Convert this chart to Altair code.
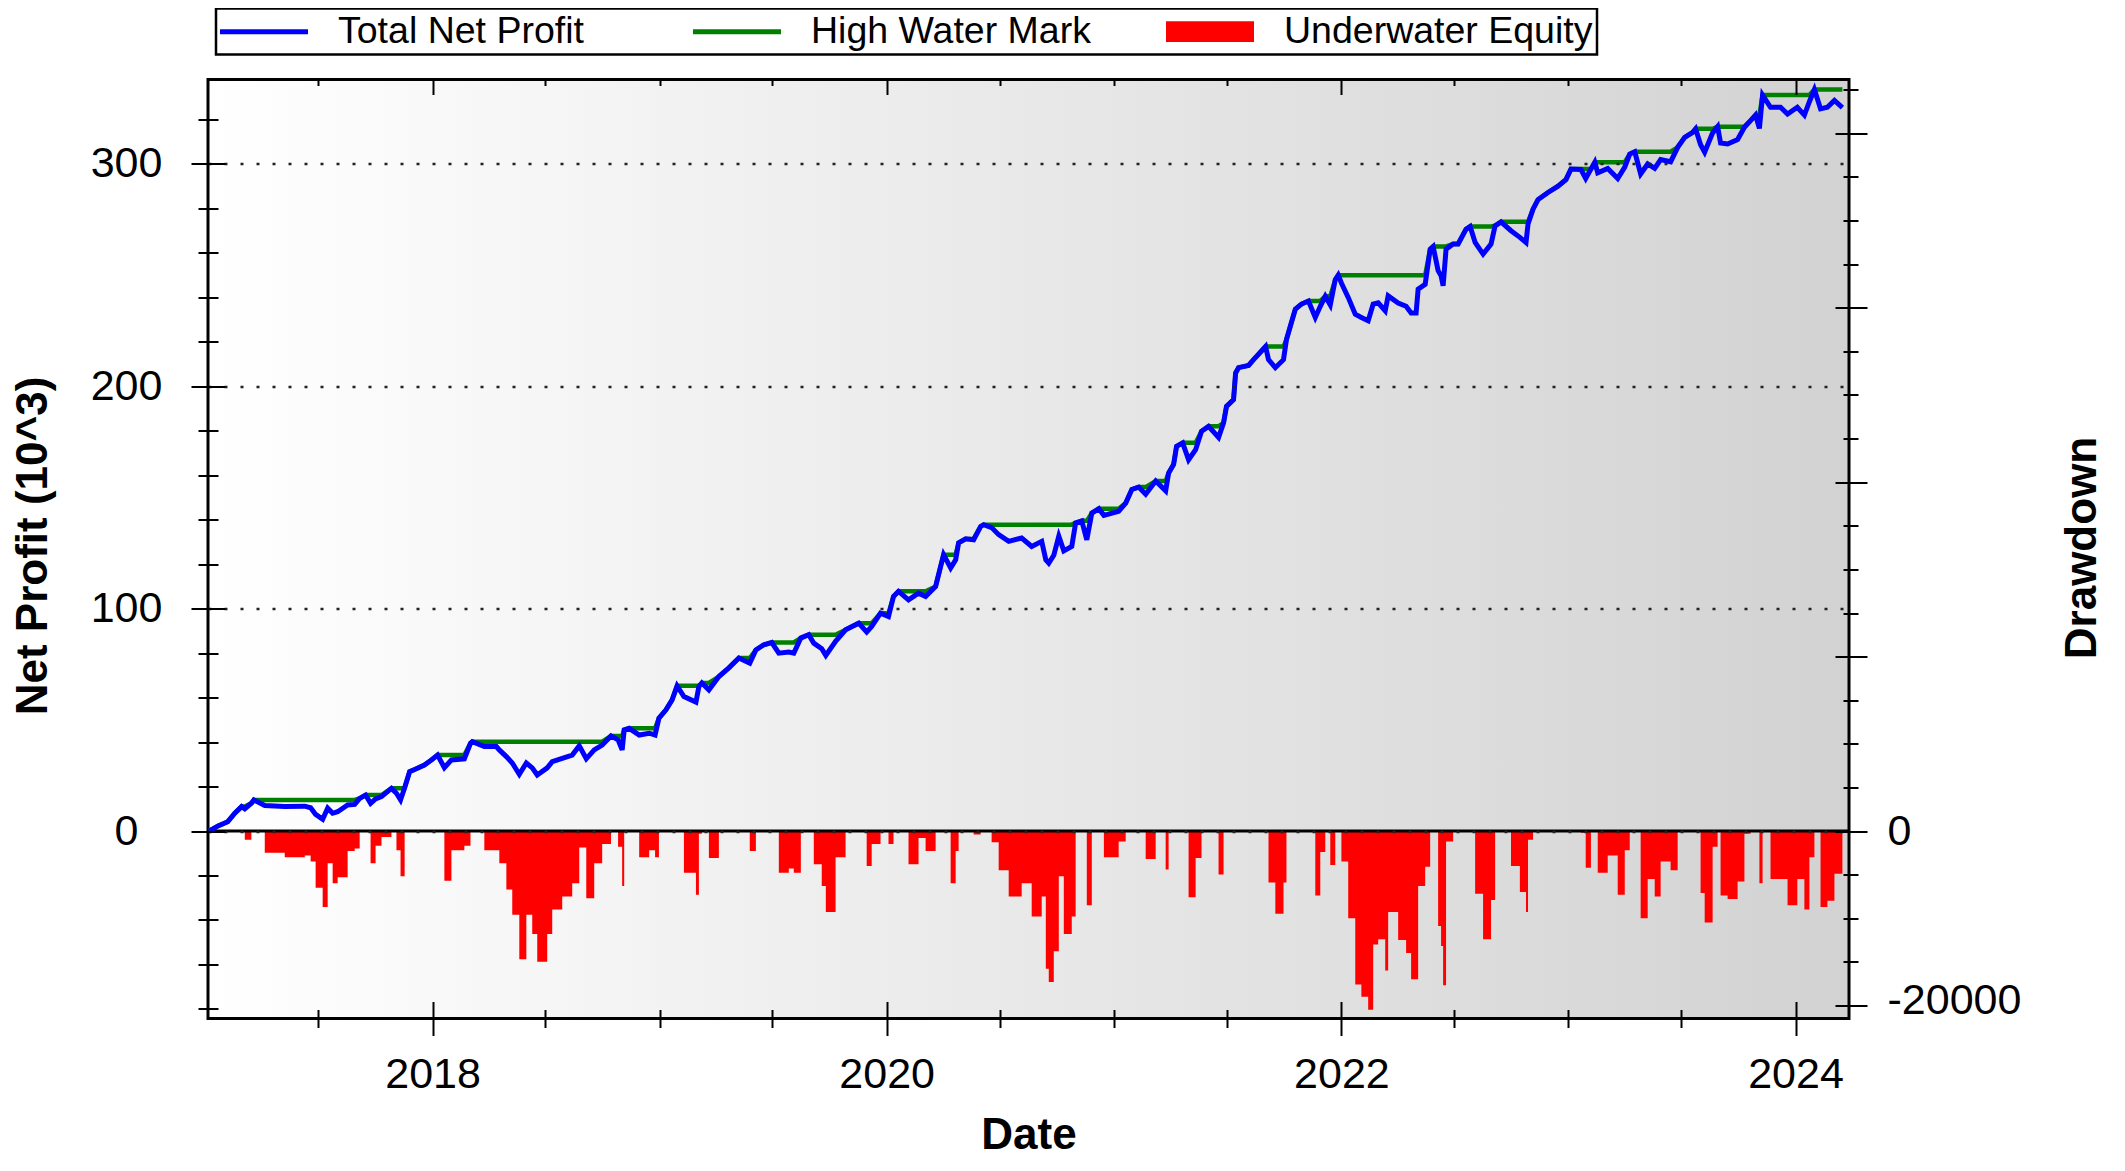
import altair as alt
import pandas as pd
import numpy as np

FONT = "Liberation Sans"

# ---- data: decimal year, Total Net Profit (10^3) ----
years = [
    2017.015, 2017.055, 2017.098, 2017.129, 2017.159, 2017.173, 2017.202, 2017.213, 2017.261, 2017.349,
    2017.437, 2017.463, 2017.485, 2017.516, 2017.538, 2017.560, 2017.582, 2017.626, 2017.657, 2017.679,
    2017.705, 2017.727, 2017.749, 2017.775, 2017.819, 2017.841, 2017.859, 2017.877, 2017.899, 2017.921,
    2017.964, 2017.995, 2018.022, 2018.052, 2018.083, 2018.140, 2018.167, 2018.175, 2018.228, 2018.281,
    2018.294, 2018.325, 2018.351, 2018.382, 2018.413, 2018.439, 2018.461, 2018.505, 2018.527, 2018.571,
    2018.615, 2018.646, 2018.677, 2018.712, 2018.747, 2018.786, 2018.817, 2018.835, 2018.844, 2018.866,
    2018.910, 2018.954, 2018.980, 2018.997, 2019.028, 2019.055, 2019.077, 2019.107, 2019.160, 2019.173,
    2019.186, 2019.217, 2019.261, 2019.305, 2019.349, 2019.397, 2019.424, 2019.459, 2019.494, 2019.525,
    2019.569, 2019.591, 2019.622, 2019.657, 2019.679, 2019.714, 2019.732, 2019.775, 2019.819, 2019.877,
    2019.912, 2019.934, 2019.973, 2020.008, 2020.030, 2020.052, 2020.096, 2020.140, 2020.171, 2020.215,
    2020.237, 2020.250, 2020.281, 2020.303, 2020.316, 2020.347, 2020.382, 2020.413, 2020.426, 2020.461,
    2020.492, 2020.536, 2020.593, 2020.637, 2020.681, 2020.699, 2020.712, 2020.734, 2020.756, 2020.778,
    2020.813, 2020.830, 2020.857, 2020.879, 2020.901, 2020.932, 2020.954, 2021.019, 2021.050, 2021.077,
    2021.107, 2021.138, 2021.182, 2021.226, 2021.239, 2021.261, 2021.274, 2021.301, 2021.327, 2021.358,
    2021.384, 2021.415, 2021.459, 2021.481, 2021.494, 2021.525, 2021.534, 2021.547, 2021.591, 2021.613,
    2021.635, 2021.666, 2021.679, 2021.709, 2021.745, 2021.758, 2021.775, 2021.797, 2021.824, 2021.855,
    2021.885, 2021.907, 2021.929, 2021.951, 2021.973, 2021.986, 2022.000, 2022.030, 2022.061, 2022.088,
    2022.118, 2022.140, 2022.162, 2022.193, 2022.206, 2022.250, 2022.285, 2022.307, 2022.329, 2022.338,
    2022.369, 2022.391, 2022.404, 2022.426, 2022.439, 2022.448, 2022.461, 2022.492, 2022.514, 2022.549,
    2022.567, 2022.589, 2022.624, 2022.659, 2022.677, 2022.703, 2022.747, 2022.786, 2022.813, 2022.822,
    2022.844, 2022.866, 2022.910, 2022.954, 2022.989, 2023.011, 2023.055, 2023.076, 2023.099, 2023.116,
    2023.129, 2023.173, 2023.217, 2023.248, 2023.270, 2023.292, 2023.318, 2023.349, 2023.380, 2023.406,
    2023.450, 2023.481, 2023.512, 2023.547, 2023.560, 2023.582, 2023.600, 2023.635, 2023.657, 2023.670,
    2023.701, 2023.745, 2023.775, 2023.802, 2023.824, 2023.841, 2023.855, 2023.890, 2023.934, 2023.965,
    2024.008, 2024.039, 2024.061, 2024.083, 2024.110, 2024.140, 2024.171, 2024.206,
]
profit_k = [
    0, 2.3, 4.2, 8, 11, 10, 12.5, 14, 11.5, 11,
    11.2, 10.5, 7.5, 5.3, 10.3, 8, 8.7, 11.7, 12, 14.7,
    16.2, 12.5, 14.5, 15.5, 19.2, 17, 14, 19.5, 26.7, 27.7,
    29.7, 32, 34.2, 28.5, 32, 32.5, 39.5, 40.2, 38, 38,
    36.5, 33.5, 30.6, 25.5, 30.6, 28.4, 25.2, 28.4, 31.2, 32.7,
    34.2, 38.3, 32.5, 36.5, 38.7, 42.8, 41, 36.5, 45.5, 46.2,
    43.2, 44, 43.2, 50.8, 54.5, 59, 65.3, 60.5, 58, 65,
    66.6, 63.5, 69.5, 73.4, 77.8, 75.5, 81.5, 83.8, 84.8, 80,
    80.5, 80, 86.8, 88.3, 84.5, 82, 79, 85.3, 90.5, 93.5,
    89.5, 92, 98, 96.5, 105.5, 107.8, 104, 107, 105.5, 110,
    119, 124.3, 118.3, 122, 129.6, 131.4, 131, 137, 137.8, 136.5,
    133.3, 130.3, 131.8, 128, 130.3, 122, 120.5, 124, 132.6, 126,
    128, 138.6, 139.5, 131, 143, 145, 142, 143.8, 147.5, 153.6,
    154.7, 151.5, 157.4, 153, 161, 164.9, 173, 174.6, 167, 171.5,
    179.8, 182, 177, 183.6, 191, 194, 206, 208.4, 209.4, 212,
    214.4, 217.9, 212, 208.4, 212, 221, 227, 234.7, 237, 238.4,
    231, 236, 240.5, 236.6, 248, 250, 246.5, 240, 232.4, 231,
    229.5, 237, 237.6, 234, 240.7, 237.5, 236, 233, 233, 243.7,
    245.9, 261.7, 262.9, 252, 249.7, 245.2, 261.7, 264, 264, 270.7,
    271.9, 264.7, 259.5, 264, 272.2, 274, 270, 267, 264.7, 273,
    279.7, 284, 287.2, 290, 293, 297.7, 297.5, 293.5, 297.7, 300.8,
    296, 298, 293.5, 298.6, 304.5, 305.5, 295.5, 300, 298, 302,
    301, 307.5, 312, 314.2, 315.8, 308.7, 305.3, 314, 316.8, 309.4,
    309, 311, 316.5, 319.5, 322, 316, 331, 325.5, 325.5, 322.5,
    325.5, 322, 328, 333.5, 324.8, 325.5, 328.6, 325.4,
]

series_names = ["Total Net Profit", "High Water Mark", "Underwater Equity"]
series_colors = ["#0000ff", "#008000", "#ff0000"]

x_domain = ["2017-01-05", "2024-03-27"]
x_major = ["2018-01-01", "2020-01-01", "2022-01-01", "2024-01-01"]
x_minor = ["2017-07-01", "2018-07-01", "2019-01-01", "2019-07-01", "2020-07-01",
           "2021-01-01", "2021-07-01", "2022-07-01", "2023-01-01", "2023-07-01"]
left_domain = [-84.3, 338.0]
left_major = [0, 100, 200, 300]
left_minor = [-80, -60, -40, -20, 20, 40, 60, 80, 120, 140, 160, 180, 220, 240, 260, 280, 320]
right_domain = [-21500, 86180]
right_label_zero = [0]
right_label_low = [-20000]
right_major = [-20000, 0, 20000, 40000, 60000, 80000]
right_minor = [-15000, -10000, -5000, 5000, 10000, 15000, 25000, 30000, 35000, 45000, 50000,
               55000, 65000, 70000, 75000, 85000]


def to_ts(t):
    y = int(np.floor(t))
    start = pd.Timestamp(year=y, month=1, day=1)
    end = pd.Timestamp(year=y + 1, month=1, day=1)
    return start + (end - start) * (t - y)


def dt(s):
    y, m, d = (int(p) for p in s.split("-"))
    return alt.DateTime(year=y, month=m, date=d)


profit = np.array(profit_k, dtype=float)
hwm = np.maximum.accumulate(profit)
df = pd.DataFrame({
    "date": [to_ts(t) for t in years],
    "profit": profit,
    "hwm": hwm,
    "dd": (profit - hwm) * 1000.0,
})

W, H = 1641, 939

x_scale = alt.Scale(domain=[dt(x_domain[0]), dt(x_domain[1])], nice=False)
left_scale = alt.Scale(domain=left_domain, nice=False, zero=False)
right_scale = alt.Scale(domain=right_domain, nice=False, zero=False)

one = pd.DataFrame({"a": [0]})

bg = alt.Chart(one).mark_rect(
    fill=alt.LinearGradient(
        gradient="linear",
        stops=[alt.GradientStop(color="#ffffff", offset=0), alt.GradientStop(color="#d2d2d2", offset=1)],
        x1=0, x2=1, y1=0, y2=0,
    ),
    stroke="black", strokeWidth=3,
).encode(x=alt.value(0), x2=alt.value("width"), y=alt.value(0), y2=alt.value("height"))

area = alt.Chart(df).mark_area(color="#ff0000", interpolate="step-after").encode(
    x=alt.X("date:T", scale=x_scale, axis=None),
    y=alt.Y("dd:Q", scale=right_scale, axis=None),
    y2=alt.datum(0),
)

zero = alt.Chart(one).mark_rule(color="black", strokeWidth=3).encode(
    y=alt.YDatum(0, scale=left_scale, axis=None),
)

hwm_line = alt.Chart(df).mark_line(color="#008000", strokeWidth=4.5).encode(
    x=alt.X("date:T", scale=x_scale, axis=None),
    y=alt.Y("hwm:Q", scale=left_scale, axis=None),
)

profit_line = alt.Chart(df).mark_line(color="#0000ff", strokeWidth=5).encode(
    x=alt.X("date:T", scale=x_scale, axis=None),
    y=alt.Y("profit:Q", scale=left_scale, axis=None),
)

carrier_df = pd.DataFrame({
    "series": series_names,
    "date": [pd.Timestamp("2020-01-01")] * 3,
    "v": [0.0, 0.0, 0.0],
})

tick_common = dict(labels=False, domain=False, grid=False, ticks=True, tickColor="black",
                   tickWidth=2, title=None, zindex=1)

legend = alt.Legend(
    title=None, orient="none", legendX=8, legendY=-71, direction="horizontal", columns=3,
    gridAlign="all", columnPadding=46, padding=4, strokeColor="black", fillColor="white",
    labelFont=FONT, labelFontSize=37.5, labelColor="black", labelOffset=55.25, labelLimit=500,
    symbolSize=400, symbolOffset=25.25, symbolStrokeWidth=0, symbolOpacity=1,
)
line_path = "M-4.4,-0.25H4.4V0.25H-4.4Z"
rect_path = "M-4.4,-1.035H4.4V1.035H-4.4Z"


def carrier():
    return alt.Chart(carrier_df).transform_filter("false").mark_point(filled=True, opacity=1)


c1 = carrier().encode(
    x=alt.X("date:T", scale=x_scale, axis=alt.Axis(
        orient="bottom", values=[dt(s) for s in x_major], format="%Y", ticks=False, tickSize=0,
        domain=False, grid=False, labelFont=FONT, labelFontSize=43, labelColor="black",
        labelPadding=35, labelFlush=False, labelOverlap=False,
        title="Date", titleFont=FONT, titleFontSize=44, titleFontWeight="bold", titleColor="black",
        titleBaseline="alphabetic", titleY=130, zindex=1)),
    y=alt.Y("v:Q", scale=left_scale, axis=alt.Axis(
        orient="left", values=left_major, format="d", ticks=False, tickSize=0, domain=False,
        grid=True, gridColor="#222222", gridWidth=2.5, gridDash=[3, 13],
        labelFont=FONT, labelFontSize=43, labelColor="black", labelAlign="center", labelPadding=82,
        labelOverlap=False, labelFlush=False,
        title="Net Profit (10^3)", titleFont=FONT, titleFontSize=44, titleFontWeight="bold",
        titleColor="black", titleAngle=270, titleBaseline="middle", titleX=-175, titleY=466, zindex=1)),
    color=alt.Color("series:N", scale=alt.Scale(domain=series_names, range=series_colors), legend=legend),
    shape=alt.Shape("series:N", scale=alt.Scale(domain=series_names, range=[line_path, line_path, rect_path]),
                    legend=legend),
)

c2 = carrier().encode(
    x=alt.X("date:T", scale=x_scale, axis=alt.Axis(orient="bottom", values=[dt(s) for s in x_major],
                                                   tickSize=34, offset=-17, **tick_common)),
    y=alt.Y("v:Q", scale=left_scale, axis=alt.Axis(orient="left", values=left_major,
                                                  tickSize=34, offset=-17, **tick_common)),
)

c3 = carrier().encode(
    x=alt.X("date:T", scale=x_scale, axis=alt.Axis(orient="bottom", values=[dt(s) for s in x_minor],
                                                   tickSize=18, offset=-9, **tick_common)),
    y=alt.Y("v:Q", scale=left_scale, axis=alt.Axis(orient="left", values=left_minor,
                                                  tickSize=20, offset=-10, **tick_common)),
)

right_label_common = dict(
    ticks=False, tickSize=0, domain=False, grid=False,
    labelExpr="(datum.value < 0 ? '-' : '') + format(abs(datum.value), 'd')",
    labelFont=FONT, labelFontSize=43, labelColor="black", labelAlign="left", labelPadding=38,
    labelOverlap=False, labelFlush=False, zindex=1,
)

c4 = carrier().encode(
    x=alt.X("date:T", scale=x_scale, axis=alt.Axis(orient="top", values=[dt(s) for s in x_major],
                                                   tickSize=15, offset=-15, **tick_common)),
    y=alt.Y("v:Q", scale=right_scale, axis=alt.Axis(
        orient="right", values=right_label_zero,
        title="Drawdown", titleFont=FONT, titleFontSize=44, titleFontWeight="bold", titleColor="black",
        titleAngle=270, titleBaseline="middle", titleX=233, titleY=468, **right_label_common)),
)

c5 = carrier().encode(
    x=alt.X("date:T", scale=x_scale, axis=alt.Axis(orient="top", values=[dt(s) for s in x_minor],
                                                   tickSize=6, offset=-6, **tick_common)),
    y=alt.Y("v:Q", scale=right_scale, axis=alt.Axis(orient="right", values=right_major,
                                                   tickSize=32, offset=-14, **tick_common)),
)

c6 = carrier().encode(
    y=alt.Y("v:Q", scale=right_scale, axis=alt.Axis(orient="right", values=right_minor,
                                                   tickSize=15, offset=-6, **tick_common)),
)

c7 = carrier().encode(
    y=alt.Y("v:Q", scale=right_scale, axis=alt.Axis(
        orient="right", values=right_label_low, title=None, labelOffset=-5, **right_label_common)),
)

chart = alt.layer(bg, area, zero, hwm_line, profit_line, c1, c2, c3, c4, c5, c6, c7).resolve_scale(
    y="independent"
).resolve_axis(
    x="independent", y="independent"
).properties(
    width=W, height=H,
    autosize=alt.AutoSizeParams(type="none"),
    padding={"left": 200, "top": 71.5, "right": 262, "bottom": 140},
).configure_view(strokeWidth=0).configure_legend(strokeWidth=2.5)

chart.save("out.html", embed_options={"renderer": "svg", "actions": False})
